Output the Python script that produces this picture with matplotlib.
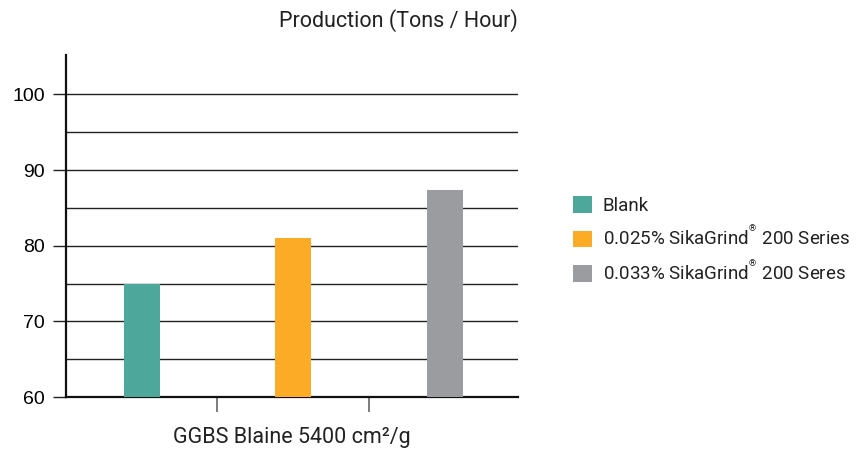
import matplotlib
matplotlib.use("Agg")
import matplotlib.pyplot as plt
from matplotlib.patches import Patch

# Data
categories = ["Blank", "0.025% SikaGrind${}^{{}^{®}}$ 200 Series", "0.033% SikaGrind${}^{{}^{®}}$ 200 Seres"]
values = [75.0, 81.0, 87.3]
colors = ["#4DA79A", "#FBAB26", "#9B9C9F"]
yticks = [60, 70, 80, 90, 100]
grid_levels = [65, 70, 75, 80, 85, 90, 95, 100]
baseline = 60

plt.rcParams["mathtext.fontset"] = "custom"
plt.rcParams["mathtext.rm"] = "Roboto"

fig = plt.figure(figsize=(8.58, 4.53), dpi=100)
ax = fig.add_axes([66/858, 56/453, 452/858, 342/453])

x = list(range(len(values)))
for xi, v, c in zip(x, values, colors):
    ax.bar(xi, v - baseline, bottom=baseline, width=0.238, color=c, zorder=3)

for g in grid_levels:
    ax.axhline(g, color="#222222", lw=1.0, zorder=1)

ax.set_xlim(-0.5, 2.485)
ax.set_ylim(60, 105.2)

ax.set_yticks(yticks)
ax.set_yticklabels([str(t) for t in yticks], fontfamily="Liberation Sans", fontsize=14)
ax.tick_params(axis="y", direction="out", length=9.5, width=1.0, color="#222222", pad=5.5)

ax.set_xticks([0.5, 1.5])
ax.set_xticklabels(["", ""])
ax.tick_params(axis="x", direction="out", length=11, width=1.2, color="#666666")

for s in ["top", "right"]:
    ax.spines[s].set_visible(False)
ax.spines["left"].set_linewidth(1.6)
ax.spines["bottom"].set_linewidth(1.6)
ax.spines["left"].set_color("#111111")
ax.spines["bottom"].set_color("#111111")

fig.text(292/858, 1 - 438/453, "GGBS Blaine 5400 cm²/g", ha="center", va="center",
         fontfamily="Roboto", fontsize=15.5, color="#222222")

fig.text(518/858, 1 - 21/453, "Production (Tons / Hour)", ha="right", va="center",
         fontfamily="Roboto", fontsize=15.5, color="#222222")

handles = [Patch(facecolor=c, edgecolor="none") for c in colors]
leg = fig.legend(handles, categories, loc="center left",
                 bbox_to_anchor=(573/858, 1 - 240/453), frameon=False,
                 borderpad=0, borderaxespad=0, handlelength=1.0, handleheight=1.0,
                 handletextpad=0.6, labelspacing=0.55,
                 prop={"family": "Roboto", "size": 13.5})
for t in leg.get_texts():
    t.set_color("#222222")

fig.savefig("out.png", dpi=100)
